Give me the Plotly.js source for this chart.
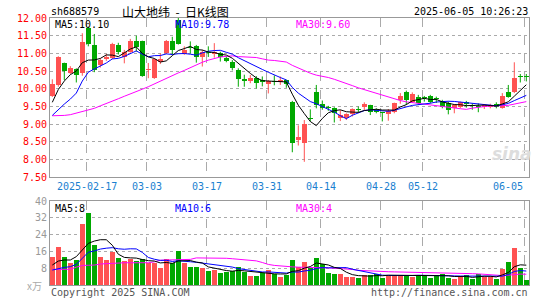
<!DOCTYPE html>
<html><head><meta charset="utf-8">
<script src="https://cdn.plot.ly/plotly-3.0.1.min.js"></script>
<style>html,body{margin:0;padding:0;background:#fff}#chart{width:545px;height:300px}</style>
</head><body><div id="chart"></div>
<script>
// ---- data ----
const dates = ['2025-02-07','2025-02-10','2025-02-11','2025-02-12','2025-02-13','2025-02-14','2025-02-17','2025-02-18','2025-02-19','2025-02-20','2025-02-21','2025-02-24','2025-02-25','2025-02-26','2025-02-27','2025-02-28',
'2025-03-03','2025-03-04','2025-03-05','2025-03-06','2025-03-07','2025-03-10','2025-03-11','2025-03-12','2025-03-13','2025-03-14','2025-03-17','2025-03-18','2025-03-19','2025-03-20','2025-03-21','2025-03-24','2025-03-25','2025-03-26','2025-03-27','2025-03-28','2025-03-31',
'2025-04-01','2025-04-02','2025-04-03','2025-04-07','2025-04-08','2025-04-09','2025-04-10','2025-04-11','2025-04-14','2025-04-15','2025-04-16','2025-04-17','2025-04-18','2025-04-21','2025-04-22','2025-04-23','2025-04-24','2025-04-25','2025-04-28','2025-04-29','2025-04-30',
'2025-05-06','2025-05-07','2025-05-08','2025-05-09','2025-05-12','2025-05-13','2025-05-14','2025-05-15','2025-05-16','2025-05-19','2025-05-20','2025-05-21','2025-05-22','2025-05-23','2025-05-26','2025-05-27','2025-05-28','2025-05-29','2025-05-30',
'2025-06-03','2025-06-04','2025-06-05'];
const open  = [9.80,10.12,10.72,10.45,10.56,10.46,11.73,11.24,10.67,10.84,10.88,11.25,10.89,11.05,11.35,11.34,10.52,10.31,10.76,11.02,11.35,11.95,10.98,11.18,11.22,10.91,11.05,10.98,11.01,10.88,10.77,10.54,10.28,10.21,10.32,10.25,10.14,10.21,10.19,10.24,9.64,8.57,8.48,9.16,9.90,9.56,9.50,9.45,9.17,9.17,9.28,9.42,9.50,9.55,9.38,9.33,9.29,9.34,9.69,9.90,9.64,9.78,9.74,9.80,9.71,9.66,9.59,9.45,9.50,9.64,9.53,9.49,9.49,9.50,9.58,9.47,9.92,9.91,10.35,10.35];
const high  = [10.27,10.92,10.74,10.64,10.58,11.57,11.76,11.55,10.86,10.98,11.30,11.30,11.10,11.41,11.50,11.36,10.73,10.85,11.00,11.38,11.47,12.02,11.20,11.34,11.24,11.10,11.20,11.29,11.05,10.92,10.81,10.58,10.40,10.39,10.36,10.35,10.25,10.38,10.35,10.26,9.66,8.97,9.12,9.42,10.11,9.67,9.52,9.48,9.40,9.31,9.45,9.50,9.62,9.55,9.45,9.35,9.43,9.61,9.88,9.95,9.90,9.83,9.80,9.83,9.78,9.69,9.64,9.57,9.64,9.66,9.59,9.59,9.55,9.58,9.62,9.88,10.11,10.75,10.42,10.42];
const low   = [9.77,10.06,10.25,10.42,10.18,10.37,11.20,10.47,10.60,10.79,10.84,10.97,10.72,11.02,11.05,10.34,10.30,10.28,10.70,10.98,10.95,11.25,10.96,11.00,10.74,10.63,10.90,10.88,10.77,10.75,10.52,10.06,10.06,10.16,10.01,10.07,9.87,10.10,10.11,10.03,8.21,8.40,7.94,9.08,9.45,9.41,9.38,9.05,9.09,9.12,9.22,9.33,9.40,9.26,9.31,9.08,9.10,9.31,9.58,9.55,9.60,9.55,9.64,9.59,9.60,9.45,9.28,9.31,9.45,9.47,9.41,9.34,9.43,9.45,9.45,9.44,9.75,9.88,10.18,10.21];
const close = [10.13,10.89,10.50,10.60,10.39,11.31,11.26,10.52,10.81,10.89,11.28,11.05,11.05,11.35,11.19,10.37,10.55,10.83,10.84,11.36,11.10,11.28,11.10,11.16,10.91,11.03,11.00,11.03,10.91,10.80,10.58,10.27,10.22,10.31,10.17,10.19,10.21,10.19,10.26,10.13,8.46,8.65,9.01,9.14,9.55,9.47,9.45,9.31,9.26,9.28,9.42,9.41,9.57,9.36,9.36,9.31,9.38,9.59,9.80,9.69,9.85,9.59,9.73,9.64,9.70,9.50,9.41,9.53,9.62,9.57,9.52,9.48,9.53,9.55,9.50,9.81,9.78,10.32,10.33,10.34];
const volume = [13.5,18.3,13.5,10.3,11.9,29.0,34.4,19.0,13.5,11.9,15.9,13.0,11.4,12.4,11.4,12.4,10.3,10.6,7.9,12.4,10.3,16.2,10.6,8.7,8.7,8.3,6.8,7.1,5.9,6.3,6.8,8.7,6.0,4.4,4.4,5.6,7.1,5.1,4.0,4.6,11.7,8.7,11.1,7.9,13.0,9.8,5.9,5.4,5.4,4.0,4.0,3.5,4.8,4.8,5.4,3.5,4.8,4.8,4.8,4.8,4.0,4.8,4.8,3.5,4.8,5.4,3.5,3.0,4.0,4.6,3.0,5.4,4.0,3.8,3.0,7.8,11.1,17.8,8.3,2.2];
// moving-average values at the start of the window (they depend on days before the window)
const ma5Head  = [9.62,9.98,10.22,10.40];
const ma10Head = [9.25,9.42,9.57,9.71,9.88,10.22,10.47,10.56,10.65];
const ma30Head = [9.24,9.24,9.25,9.27,9.31,9.36,9.40,9.45,9.52,9.58,9.65,9.72,9.79,9.85,9.92,9.99,10.06,10.14,10.23,10.31,10.38,10.45,10.52,10.60,10.68,10.75,10.81,10.86,10.90];
const volMa5Head  = [9.5,11.4,11.9,11.9];
const volMa10Head = [7.1,7.9,8.4,8.7,9.8,12.7,15.6,16.2,17.1];
const volMa30Head = [7.4,7.4,7.4,7.5,8.5,9.3,9.4,9.5,10.0,10.2,10.4,10.5,10.6,10.6,10.6,10.6,10.6,11.0,11.8,11.9,11.9,11.9,11.9,12.2,12.9,12.9,12.9,12.9,12.9];
const tickDates  = ['2025-02-17','2025-03-03','2025-03-17','2025-03-31','2025-04-14','2025-04-28','2025-05-12','2025-06-05'];
const tickLabels = ['2025-02-17','03-03','03-17','03-31','04-14','04-28','05-12','06-05'];
const priceTicks = [7.5,8,8.5,9,9.5,10,10.5,11,11.5,12];
const volTicks = [8,16,24,32,40];
const maLabels = ['MA5:10.10','MA10:9.78','MA30:9.60'];
const volMaLabels = ['MA5:8','MA10:6','MA30:4'];

// ---- build ----
const UP = '#ff5252', DOWN = '#00a800';
const MONO = 'DejaVu Sans Mono, Liberation Mono, monospace';
const idx = dates.map((d,i)=>i);
const isUp = close.map((c,i)=> c >= open[i]);
function ma(arr, n, head){
  return arr.map((v,i)=>{
    if(i < n-1) return head[i];
    let s=0; for(let k=i-n+1;k<=i;k++) s+=arr[k]; return s/n;
  });
}
const bodyBase = idx.map(i=>Math.min(open[i],close[i]));
const bodyH = idx.map(i=>Math.max(Math.abs(close[i]-open[i]),0.03));
const colors = idx.map(i=> isUp[i]?UP:DOWN);
function wick(up){
  const x=[],y=[];
  idx.forEach(i=>{ if(isUp[i]===up){ x.push(i,i,null); y.push(low[i],high[i],null);} });
  return {x,y,type:'scatter',mode:'lines',line:{color:up?UP:DOWN,width:1},xaxis:'x',yaxis:'y',hoverinfo:'skip'};
}
const tickIdx = tickDates.map(d=>dates.indexOf(d)-0.3);

const traces = [
  wick(true), wick(false),
  {type:'bar',x:idx,y:bodyH,base:bodyBase,width:0.78,marker:{color:colors,line:{width:0}},xaxis:'x',yaxis:'y'},
  {type:'scatter',mode:'lines',x:idx,y:ma(close,30,ma30Head),line:{color:'#ff00ff',width:1},xaxis:'x',yaxis:'y'},
  {type:'scatter',mode:'lines',x:idx,y:ma(close,10,ma10Head),line:{color:'#0000ff',width:1},xaxis:'x',yaxis:'y'},
  {type:'scatter',mode:'lines',x:idx,y:ma(close,5,ma5Head),line:{color:'#000000',width:1},xaxis:'x',yaxis:'y'},
  {type:'bar',x:idx,y:volume,width:0.78,marker:{color:colors,line:{width:0}},xaxis:'x2',yaxis:'y2'},
  {type:'scatter',mode:'lines',x:idx,y:ma(volume,30,volMa30Head),line:{color:'#ff00ff',width:1},xaxis:'x2',yaxis:'y2'},
  {type:'scatter',mode:'lines',x:idx,y:ma(volume,10,volMa10Head),line:{color:'#0000ff',width:1},xaxis:'x2',yaxis:'y2'},
  {type:'scatter',mode:'lines',x:idx,y:ma(volume,5,volMa5Head),line:{color:'#000000',width:1},xaxis:'x2',yaxis:'y2'}
];

const xr = [-0.383, 79.45];
const xcommon = {range:xr,tickvals:tickIdx,showticklabels:false,ticks:'',showgrid:true,gridcolor:'#aaaaaa',griddash:'dash',gridwidth:1,
  zeroline:false,showline:true,mirror:true,linecolor:'#999999',linewidth:1,fixedrange:true};
const ann = [];
const t = (text,x,y,opt)=>Object.assign({text,x,y,xref:'paper',yref:'paper',showarrow:false,xanchor:'left',yanchor:'middle',
  font:{family:MONO,size:10,color:'#000'}},opt||{});
ann.push(t('sh688579',-0.003,1.0243));
ann.push(t('山大地纬\u00a0\u00a0-\u00a0\u00a0日K线图',0.146,1.0243,{font:{family:'Noto Sans CJK SC',size:12,color:'#000'}}));
ann.push(t('2025-06-05 10:26:23',1.002,1.0243,{xanchor:'right'}));
ann.push(t(maLabels[0],0.006,0.9775));
ann.push(t(maLabels[1],0.257,0.9775,{font:{family:MONO,size:10,color:'#0000ff'}}));
ann.push(t(maLabels[2],0.509,0.9775,{font:{family:MONO,size:10,color:'#ff00ff'}}));
ann.push(t(volMaLabels[0],0.006,0.287));
ann.push(t(volMaLabels[1],0.257,0.287,{font:{family:MONO,size:10,color:'#0000ff'}}));
ann.push(t(volMaLabels[2],0.509,0.287,{font:{family:MONO,size:10,color:'#ff00ff'}}));
ann.push(t('x万',-0.012,0.0,{xanchor:'right',font:{family:'Noto Sans CJK SC',size:10,color:'#aaaaaa'}}));
ann.push(t('Copyright 2025 SINA.COM',-0.003,-0.029,{font:{family:MONO,size:10,color:'#555'}}));
ann.push(t('http://finance.sina.com.cn',1.002,-0.029,{xanchor:'right',font:{family:MONO,size:10,color:'#555'}}));
ann.push(t('<i><b>sina</b></i>',0.965,0.49,{xanchor:'center',font:{family:'DejaVu Sans',size:17,color:'#dddddd'}}));
tickLabels.forEach((lab,k)=>{
  const last = k===tickLabels.length-1;
  ann.push({text:lab,x:tickIdx[k],y:0.368,xref:'x',yref:'paper',showarrow:false,xanchor:last?'right':'center',yanchor:'middle',
    font:{family:MONO,size:10,color:'#1a7fd0'}});
});

const layout = {
  width:545,height:300,margin:{l:50,r:16,t:18,b:15},paper_bgcolor:'#fff',plot_bgcolor:'#fff',showlegend:false,hovermode:false,
  bargap:0,
  xaxis:Object.assign({},xcommon,{anchor:'y',domain:[0,1]}),
  xaxis2:Object.assign({},xcommon,{anchor:'y2',domain:[0,1]}),
  yaxis:{domain:[0.403,1],range:[7.5,12],tickvals:priceTicks,ticktext:priceTicks.map(v=>v.toFixed(2)),ticks:'',
    tickfont:{family:MONO,size:10,color:'#ff0000'},showgrid:true,gridcolor:'#aaaaaa',griddash:'dot',zeroline:false,
    showline:true,mirror:true,linecolor:'#999999',fixedrange:true},
  yaxis2:{domain:[0,0.3146],range:[0,40],tickvals:volTicks,ticktext:volTicks.map(String),ticks:'',
    tickfont:{family:MONO,size:10,color:'#999999'},showgrid:true,gridcolor:'#aaaaaa',griddash:'dot',zeroline:false,
    showline:true,mirror:true,linecolor:'#999999',fixedrange:true},
  annotations:ann
};
Plotly.newPlot('chart',traces,layout,{staticPlot:true,displayModeBar:false});
</script></body></html>
